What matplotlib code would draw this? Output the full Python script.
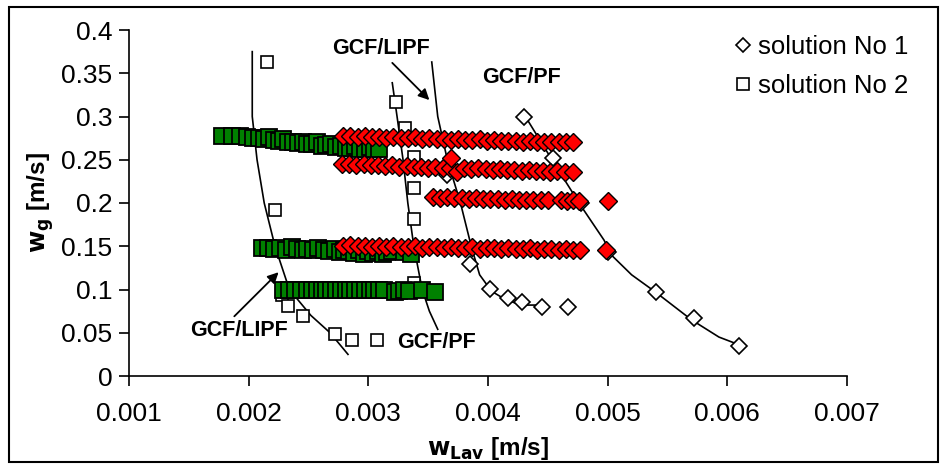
import matplotlib
matplotlib.use('Agg')
import matplotlib.pyplot as plt
from matplotlib.lines import Line2D
from matplotlib.patches import Rectangle

plt.rcParams['font.family'] = ['Liberation Sans', 'DejaVu Sans']

# ── data ──────────────────────────────────────────────────────────────────────
# green squares (three rows)
green_x1 = [0.00178, 0.00186, 0.00193, 0.00199, 0.00204, 0.00209, 0.00213, 0.00217,
            0.00221, 0.00225, 0.00229, 0.00233, 0.00237, 0.00241, 0.00245, 0.00249,
            0.00253, 0.00257, 0.00261, 0.00265, 0.00269, 0.00273, 0.00277, 0.00281,
            0.00285, 0.00289, 0.00293, 0.00297, 0.00301, 0.00305, 0.00309]
green_y1 = [0.278, 0.277, 0.277, 0.276, 0.275, 0.275, 0.274, 0.276, 0.273, 0.272,
            0.274, 0.271, 0.270, 0.269, 0.271, 0.268, 0.268, 0.270, 0.266, 0.267,
            0.268, 0.265, 0.266, 0.264, 0.264, 0.266, 0.263, 0.262, 0.265, 0.262,
            0.262]
green_x2 = [0.00211, 0.00216, 0.00221, 0.00226, 0.00231, 0.00236, 0.00240, 0.00245,
            0.00249, 0.00254, 0.00258, 0.00263, 0.00267, 0.00272, 0.00276, 0.00280,
            0.00284, 0.00288, 0.00292, 0.00296, 0.00300, 0.00304, 0.00308, 0.00312,
            0.00316, 0.00320, 0.00330, 0.00336]
green_y2 = [0.148, 0.148, 0.147, 0.148, 0.146, 0.149, 0.147, 0.146, 0.147, 0.146,
            0.148, 0.146, 0.145, 0.147, 0.143, 0.146, 0.145, 0.142, 0.146, 0.141,
            0.145, 0.142, 0.144, 0.141, 0.143, 0.145, 0.143, 0.141]
green_x3 = [0.00229, 0.00234, 0.00239, 0.00244, 0.00249, 0.00253, 0.00257, 0.00261,
            0.00265, 0.00269, 0.00273, 0.00277, 0.00281, 0.00285, 0.00289, 0.00293,
            0.00297, 0.00301, 0.00305, 0.00309, 0.00313, 0.00322, 0.00326, 0.00330,
            0.00334, 0.00345, 0.00356]
green_y3 = [0.099, 0.100, 0.100, 0.100, 0.099, 0.100, 0.100, 0.100, 0.100, 0.100,
            0.100, 0.100, 0.099, 0.100, 0.100, 0.100, 0.100, 0.099, 0.100, 0.100,
            0.100, 0.097, 0.098, 0.099, 0.098, 0.100, 0.097]

# red diamonds (four rows + extras)
red_x1 = [0.00279, 0.00285, 0.00291, 0.00297, 0.00303, 0.00309, 0.00315, 0.00321,
          0.00327, 0.00333, 0.00339, 0.00345, 0.00351, 0.00357, 0.00363, 0.00369,
          0.00375, 0.00381, 0.00387, 0.00393, 0.00399, 0.00405, 0.00411, 0.00417,
          0.00423, 0.00429, 0.00435, 0.00441, 0.00447, 0.00453, 0.00459, 0.00465,
          0.00471]
red_y1 = [0.277, 0.277, 0.276, 0.277, 0.276, 0.276, 0.275, 0.276, 0.275, 0.275,
          0.276, 0.274, 0.275, 0.274, 0.274, 0.273, 0.274, 0.273, 0.273, 0.274,
          0.272, 0.273, 0.272, 0.272, 0.272, 0.271, 0.272, 0.271, 0.271, 0.270,
          0.271, 0.270, 0.270]
red_x2 = [0.00278, 0.00284, 0.00290, 0.00296, 0.00302, 0.00308, 0.00314, 0.00320,
          0.00326, 0.00332, 0.00338, 0.00344, 0.00350, 0.00356, 0.00362, 0.00368,
          0.00374, 0.00380, 0.00386, 0.00392, 0.00398, 0.00404, 0.00410, 0.00416,
          0.00422, 0.00428, 0.00434, 0.00440, 0.00446, 0.00452, 0.00458, 0.00464,
          0.00471]
red_y2 = [0.245, 0.245, 0.244, 0.245, 0.244, 0.244, 0.243, 0.244, 0.242, 0.243,
          0.242, 0.242, 0.241, 0.242, 0.240, 0.241, 0.236, 0.240, 0.239, 0.240,
          0.239, 0.238, 0.239, 0.238, 0.238, 0.237, 0.238, 0.237, 0.237, 0.236,
          0.237, 0.236, 0.236]
red_x3 = [0.00354, 0.00360, 0.00366, 0.00372, 0.00378, 0.00384, 0.00390, 0.00396,
          0.00402, 0.00408, 0.00414, 0.00420, 0.00426, 0.00432, 0.00438, 0.00444,
          0.00450, 0.00461, 0.00466, 0.00471, 0.00476, 0.00500]
red_y3 = [0.207, 0.206, 0.207, 0.206, 0.206, 0.205, 0.206, 0.205, 0.205, 0.205,
          0.204, 0.205, 0.204, 0.204, 0.203, 0.204, 0.203, 0.203, 0.202, 0.203,
          0.202, 0.202]
red_x4 = [0.00279, 0.00285, 0.00291, 0.00297, 0.00303, 0.00309, 0.00315, 0.00321,
          0.00327, 0.00333, 0.00339, 0.00345, 0.00351, 0.00357, 0.00363, 0.00369,
          0.00375, 0.00381, 0.00387, 0.00393, 0.00399, 0.00405, 0.00411, 0.00417,
          0.00423, 0.00429, 0.00435, 0.00441, 0.00447, 0.00453, 0.00459, 0.00465,
          0.00471, 0.00477, 0.00499]
red_y4 = [0.150, 0.151, 0.150, 0.150, 0.149, 0.150, 0.149, 0.150, 0.149, 0.149,
          0.150, 0.148, 0.149, 0.149, 0.148, 0.149, 0.148, 0.148, 0.149, 0.147,
          0.148, 0.148, 0.147, 0.148, 0.147, 0.147, 0.148, 0.146, 0.147, 0.147,
          0.146, 0.147, 0.146, 0.146, 0.146]
red_x5 = [0.00369]
red_y5 = [0.252]

# solution No 1 (white diamonds)
sol1_x = [0.00366, 0.00385, 0.00402, 0.00417, 0.00428, 0.00445, 0.00467,
          0.00430, 0.00454, 0.00478, 0.00500, 0.00540, 0.00572, 0.00610]
sol1_y = [0.232, 0.129, 0.101, 0.090, 0.085, 0.080, 0.080,
          0.300, 0.252, 0.200, 0.143, 0.097, 0.067, 0.035]

# solution No 2 (white squares)
sol2_x = [0.00215, 0.00222, 0.00228, 0.00233, 0.00245, 0.00272, 0.00286, 0.00307,
          0.00323, 0.00331, 0.00338, 0.00338, 0.00338, 0.00338, 0.00345]
sol2_y = [0.363, 0.192, 0.094, 0.081, 0.069, 0.049, 0.042, 0.042,
          0.317, 0.287, 0.253, 0.217, 0.182, 0.107, 0.099]

# boundary curves
c1_x = [0.00203, 0.00203, 0.00207, 0.00213, 0.00222, 0.00234, 0.00252, 0.00268, 0.00283]
c1_y = [0.375, 0.300, 0.250, 0.200, 0.150, 0.100, 0.070, 0.050, 0.025]
c2_x = [0.00320, 0.00324, 0.00329, 0.00333, 0.00338, 0.00345, 0.00351, 0.00358]
c2_y = [0.339, 0.300, 0.250, 0.200, 0.150, 0.100, 0.075, 0.054]
c3_x = [0.00353, 0.00358, 0.00366, 0.00377, 0.00386, 0.00393, 0.00403, 0.00415,
        0.00428, 0.00443]
c3_y = [0.363, 0.300, 0.250, 0.200, 0.150, 0.117, 0.098, 0.088, 0.082, 0.082]
c4_x = [0.00433, 0.00457, 0.00478, 0.00497, 0.00503, 0.00520, 0.00540, 0.00570,
        0.00593, 0.00610]
c4_y = [0.296, 0.242, 0.196, 0.157, 0.140, 0.117, 0.097, 0.065, 0.045, 0.036]

# ── figure ────────────────────────────────────────────────────────────────────
fig = plt.figure(figsize=(9.43, 4.68), dpi=100)
ax = fig.add_axes([129/943, 1 - 376/468, (847 - 129)/943, (376 - 30)/468])

for cx, cy in [(c1_x, c1_y), (c2_x, c2_y), (c3_x, c3_y), (c4_x, c4_y)]:
    ax.plot(cx, cy, color='black', lw=1.2, zorder=2)

ax.plot(sol2_x, sol2_y, 's', ms=9, mfc='white', mec='black', mew=1.2, zorder=3)
ax.plot(sol1_x, sol1_y, 'D', ms=8, mfc='white', mec='black', mew=1.2, zorder=3)

for gx, gy in [(green_x1, green_y1), (green_x2, green_y2), (green_x3, green_y3)]:
    ax.plot(gx, gy, 's', ms=11, mfc='#008000', mec='black', mew=1.3, ls='none', zorder=4)
for rx, ry in [(red_x1, red_y1), (red_x2, red_y2), (red_x3, red_y3),
               (red_x4, red_y4), (red_x5, red_y5)]:
    ax.plot(rx, ry, 'D', ms=9, mfc='#FF0000', mec='black', mew=1.0, ls='none', zorder=5)

# annotations
arrow = dict(arrowstyle='-|>', color='black', lw=1.3, mutation_scale=16,
             shrinkA=0, shrinkB=0)
lbl = dict(ha='center', va='center', fontsize=15.5, fontweight='bold')
ax.text(0.00311, 0.379, 'GCF/LIPF', **lbl)
ax.annotate('', xy=(0.00351, 0.319), xytext=(0.00320, 0.362), arrowprops=arrow)
ax.text(0.00428, 0.345, 'GCF/PF', **lbl)
ax.text(0.00192, 0.053, 'GCF/LIPF', **lbl)
ax.annotate('', xy=(0.00225, 0.120), xytext=(0.00188, 0.069), arrowprops=arrow)
ax.text(0.00357, 0.039, 'GCF/PF', **lbl)

ax.set_xlim(0.001, 0.007)
ax.set_ylim(0, 0.4)
ax.set_xticks([0.001, 0.002, 0.003, 0.004, 0.005, 0.006, 0.007])
ax.set_xticklabels(['0.001', '0.002', '0.003', '0.004', '0.005', '0.006', '0.007'])
ax.set_yticks([0, 0.05, 0.1, 0.15, 0.2, 0.25, 0.3, 0.35, 0.4])
ax.set_yticklabels(['0', '0.05', '0.1', '0.15', '0.2', '0.25', '0.3', '0.35', '0.4'])
ax.tick_params(axis='both', labelsize=19, width=1.2, length=7, direction='out')
ax.tick_params(axis='x', pad=12)
ax.tick_params(axis='y', pad=5)
for s in ['top', 'right']:
    ax.spines[s].set_visible(False)
for s in ['left', 'bottom']:
    ax.spines[s].set_linewidth(1.2)

ax.set_xlabel(r'$\mathbf{w_{Lav}}$ [m/s]', fontsize=17.5, fontweight='bold', labelpad=6)
ax.set_ylabel(r'$\mathbf{w_{g}}$ [m/s]', fontsize=17.5, fontweight='bold', labelpad=4)

handles = [Line2D([], [], marker='D', ls='none', ms=7, mfc='white', mec='black', mew=1.2),
           Line2D([], [], marker='s', ls='none', ms=8, mfc='white', mec='black', mew=1.2)]
fig.legend(handles, ['solution No 1', 'solution No 2'], loc='upper left',
           bbox_to_anchor=(722/943, 1 - 22/468), frameon=False, fontsize=18.5,
           handlelength=0.6, handletextpad=0.3, labelspacing=0.6, borderpad=0)

fig.add_artist(Rectangle((9/943, 6/468), 929/943, 455/468, transform=fig.transFigure,
                         fill=False, edgecolor='black', lw=1.5))

fig.savefig('out.png', dpi=100)
